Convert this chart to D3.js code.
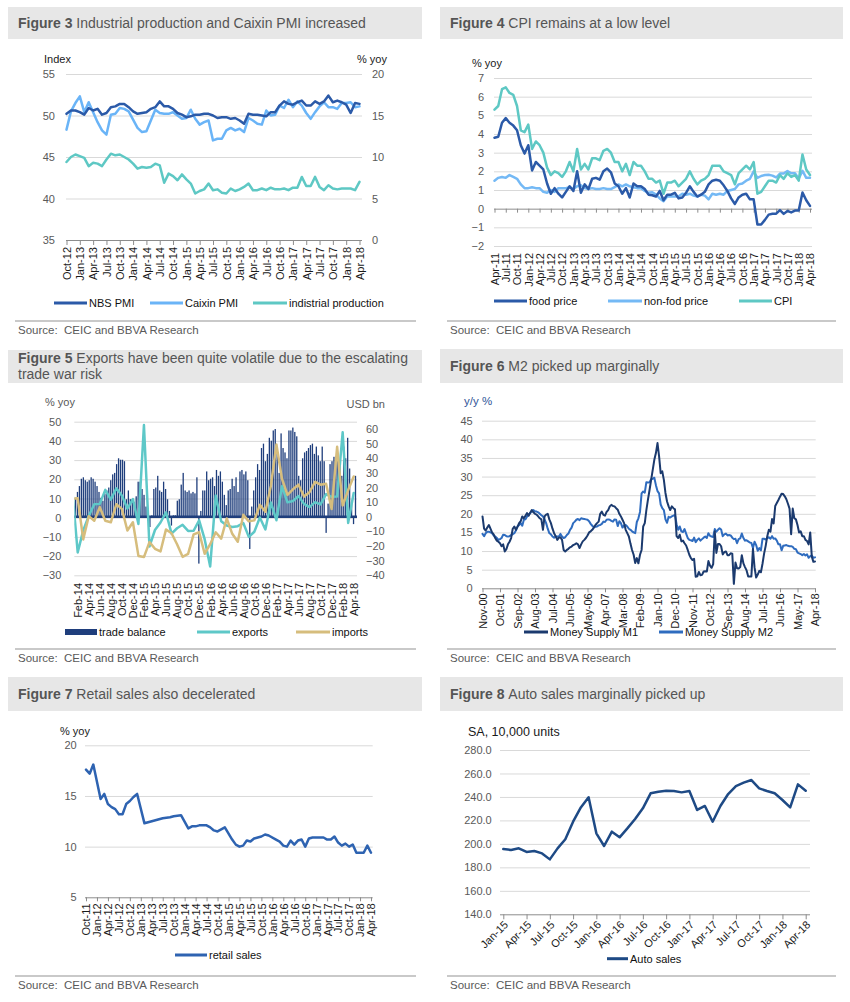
<!DOCTYPE html>
<html>
<head>
<meta charset="utf-8">
<script src="https://cdn.jsdelivr.net/npm/d3@7"></script>
<style>
body { margin: 0; background: #fff; }
text { font-family: Arial, "Liberation Sans", sans-serif; }
</style>
</head>
<body>
<div id="chart"></div>
<script>
const fmtMonth = d3.timeFormat("%b-%y");
function months(start, end) {
	let s = new Date(start + "-01T00:00:00");
	let e = new Date(end + "-01T00:00:00");
	return d3.timeMonth.range(s, d3.timeMonth.offset(e, 1)).map(fmtMonth);
}

// ---- Figure 3 data ----
const f3Months = months("2012-10", "2018-04");
const nbsPmi = [50.2, 50.6, 50.6,
	50.4, 50.1, 50.9, 50.6, 50.8, 50.1, 50.3, 51.0, 51.1, 51.4, 51.4, 51.0,
	50.5, 50.2, 50.3, 50.4, 50.8, 51.0, 51.7, 51.1, 51.1, 50.8, 50.3, 50.1,
	49.8, 49.9, 50.1, 50.1, 50.2, 50.2, 50.0, 49.7, 49.8, 49.8, 49.6, 49.7,
	49.4, 49.0, 50.2, 50.1, 50.1, 50.0, 49.9, 50.4, 50.4, 51.2, 51.7, 51.4,
	51.3, 51.6, 51.8, 51.2, 51.2, 51.7, 51.4, 51.7, 52.4, 51.6, 51.8, 51.6,
	51.3, 50.3, 51.5, 51.4];
const caixinPmi = [48.3, 50.5, 51.5,
	52.3, 50.4, 51.6, 50.4, 49.2, 48.2, 47.7, 50.1, 50.2, 50.9, 50.8, 50.5,
	49.5, 48.5, 48.0, 48.1, 49.4, 50.7, 50.3, 50.2, 50.2, 50.4, 50.0, 49.6,
	49.7, 50.7, 49.6, 48.9, 49.2, 49.4, 47.0, 47.2, 47.2, 48.2, 48.5, 48.2,
	48.4, 48.0, 49.7, 49.4, 49.0, 48.9, 50.6, 50.0, 50.1, 51.2, 50.9, 51.9,
	51.0, 51.7, 51.2, 50.3, 49.6, 50.4, 51.1, 51.6, 51.0, 51.0, 50.8, 51.5,
	51.5, 51.6, 51.0, 51.1];
const indProd = [9.4, 10.0, 10.3,
	10.1, 9.9, 8.9, 9.3, 9.2, 8.9, 9.7, 10.4, 10.2, 10.3, 10.0, 9.7,
	9.2, 8.6, 8.8, 8.7, 8.8, 9.2, 9.0, 6.9, 8.0, 7.7, 7.2, 7.9,
	7.3, 6.8, 5.6, 5.9, 6.1, 6.8, 6.0, 6.1, 5.7, 5.6, 6.2, 5.9,
	6.1, 6.4, 6.8, 6.0, 6.0, 6.2, 6.0, 6.3, 6.1, 6.1, 6.2, 6.0,
	6.3, 6.3, 7.6, 6.5, 6.5, 7.6, 6.4, 6.0, 6.6, 6.2, 6.1, 6.2,
	6.2, 6.2, 6.0, 7.0];

// ---- Figure 4 data ----
const f4Months = months("2011-04", "2018-04");
const foodPrice = [3.8, 3.85, 4.6, 4.85, 4.6, 4.45, 4.2, 3.4, 2.95,
	3.4, 2.05, 2.5, 2.3, 2.1, 1.35, 0.8, 1.1, 0.8, 0.6, 0.9, 1.2,
	0.95, 2.0, 0.85, 1.3, 1.05, 1.6, 1.65, 1.55, 2.0, 2.15, 1.95, 1.35,
	1.2, 0.8, 1.1, 0.6, 1.35, 1.2, 1.2, 1.05, 0.75, 0.72, 0.65, 0.95,
	0.45, 0.75, 0.75, 0.85, 0.55, 0.6, 0.85, 1.2, 0.9, 0.65, 0.75, 0.9,
	1.3, 1.5, 1.55, 1.5, 1.25, 0.95, 0.55, 0.25, 0.6, 0.75, 0.8, 0.5,
	0.5, -0.85, -0.85, -0.6, -0.32, -0.27, -0.27, -0.08, -0.28, -0.12, -0.2, -0.1,
	-0.1, 0.87, 0.45, 0.15];
const nonFoodPrice = [1.5, 1.65, 1.7, 1.65, 1.8, 1.7, 1.6, 1.3, 1.1,
	1.1, 1.15, 1.1, 1.1, 0.9, 0.85, 1.0, 0.9, 1.1, 1.1, 1.1, 1.15,
	1.05, 1.2, 1.25, 1.1, 1.05, 1.1, 1.05, 1.05, 1.1, 1.05, 1.05, 1.15,
	1.3, 1.2, 1.3, 1.2, 1.15, 1.1, 1.1, 0.95, 0.85, 0.88, 0.75, 0.55,
	0.4, 0.65, 0.65, 0.65, 0.65, 0.8, 0.75, 0.8, 0.7, 0.65, 0.75, 0.7,
	0.5, 0.8, 0.75, 0.8, 0.75, 0.95, 1.0, 1.05, 1.3, 1.35, 1.5, 1.6,
	2.0, 1.65, 1.75, 1.8, 1.82, 1.77, 1.67, 1.88, 1.88, 2.02, 1.9, 1.9,
	1.6, 2.03, 1.65, 1.65];
const cpi = [5.3, 5.5, 6.4, 6.5, 6.2, 6.1, 5.5, 4.2, 4.1,
	4.5, 3.2, 3.6, 3.4, 3.0, 2.2, 1.8, 2.0, 1.9, 1.7, 2.0, 2.5,
	2.0, 3.2, 2.1, 2.4, 2.1, 2.7, 2.7, 2.6, 3.1, 3.2, 3.0, 2.5,
	2.5, 2.0, 2.4, 1.8, 2.5, 2.3, 2.3, 2.0, 1.6, 1.6, 1.4, 1.5,
	0.8, 1.4, 1.4, 1.5, 1.2, 1.4, 1.6, 2.0, 1.6, 1.3, 1.5, 1.6,
	1.8, 2.3, 2.3, 2.3, 2.0, 1.9, 1.8, 1.3, 1.9, 2.1, 2.3, 2.1,
	2.5, 0.8, 0.9, 1.2, 1.5, 1.5, 1.4, 1.8, 1.6, 1.9, 1.7, 1.8,
	1.5, 2.9, 2.1, 1.8];

// ---- Figure 5 data ----
const f5Months = months("2014-01", "2018-04");
const exportsYoy = [15, -18.1, -6.6, 0.9, 7.0, 7.2, 14.5, 9.4, 15.3, 11.6, 4.7, 9.7,
	-3.3, 48.3, -15.0, -6.4, -2.5, 2.8, -8.3, -5.5, -3.7, -6.9, -6.8, -1.4,
	-11.2, -25.4, 11.5, -1.8, -4.1, -4.8, -4.4, -2.8, -10.0, -7.3, 0.1, -6.1,
	7.9, -1.3, 16.4, 8.0, 8.7, 11.3, 7.2, 5.5, 8.1, 6.9, 12.3, 10.9,
	11.1, 44.5, -2.7, 12.9];
const importsYoy = [10.0, 10.1, -11.3, 0.8, -1.6, 5.5, -1.6, -2.4, 7.0, 4.6, -6.7, -2.4,
	-19.9, -20.5, -12.7, -16.2, -17.6, -6.1, -8.1, -13.8, -20.4, -18.8, -8.7, -7.6,
	-18.8, -13.8, -7.6, -10.9, -0.4, -8.4, -12.5, 1.5, -1.9, -1.4, 6.7, 3.1,
	16.7, 38.1, 20.3, 11.9, 14.8, 17.2, 11.0, 13.3, 18.7, 17.2, 17.7, 4.5,
	36.9, 6.3, 14.4, 21.5];
const tradeBalance = [13, 17, 21, 26, 27, 25, 24, 25, 27, 26, 24, 21, 17, 13, 11, 16, 18, 20, 25, 29,
	30, 36, 40, 39, 39, 38, 12, 18, 12, 12, 10, 14, 24, 24, 19, 15, 7, 3, -7, 1,
	19, 20, 28, 18, 17, 24, 19, 12, 4, -6, 1, 1, 11, 12, 22, 30, 18, 17, 18, 16,
	17, 16, 27, -32, 4, 18, 18, 31, 25, 26, 27, 21, 32, 28, 31, 24, 15, 8, 18, 19,
	26, 21, 27, 17, 31, 32, 29, 31, 25, -22, 7, 18, 27, 36, 32, 47, 50, 38, 43, 54,
	52, 59, 60, 43, 30, 57, 47, 44, 40, 59, 59, 61, 58, 55, 28, 25, 40, 44, 45, 47,
	49, 50, 43, 48, 42, 38, 48, 38, -11, 9, 36, 38, 41, 41, 43, 36, 28, 48, 40, 54,
	33, 10, -5, 28];

// ---- Figure 6 data ----
const f6Months = months("2000-11", "2018-04");
const m1 = [19.3, 16.0,
	15.5, 16.3, 17.0, 16.0, 15.0, 14.5, 13.5, 12.8, 12.5, 12.1, 11.3, 11.8,
	9.9, 10.5, 11.8, 12.5, 13.5, 16.0, 16.6, 15.7, 16.5, 17.5, 18.0, 19.3,
	18.8, 19.5, 20.2, 19.5, 20.3, 21.0, 20.4, 20.0, 19.8, 19.3, 18.8, 18.5,
	15.7, 19.3, 19.8, 20.0, 18.5, 17.5, 16.0, 14.8, 14.0, 13.0, 13.6, 13.7,
	13.0, 10.3, 9.9, 10.3, 10.6, 11.0, 11.2, 11.6, 11.8, 12.1, 11.8, 10.8,
	11.8, 12.6, 13.0, 13.5, 14.2, 15.0, 15.3, 15.7, 16.3, 17.0, 17.5, 17.9,
	20.0, 20.6, 19.7, 19.5, 20.5, 21.0, 22.0, 22.4, 22.1, 22.0, 21.5, 21.1,
	20.0, 19.3, 18.4, 17.5, 15.7, 14.8, 13.9, 12.0, 10.3, 9.0, 6.8, 8.1,
	6.7, 9.0, 10.3, 16.6, 17.5, 21.0, 23.8, 26.4, 29.1, 31.8, 34.5, 36.3,
	39.0, 35.4, 30.9, 31.4, 29.1, 25.6, 23.3, 22.0, 21.0, 22.0, 21.5, 21.2,
	14.0, 13.5, 14.4, 12.6, 12.8, 12.1, 11.5, 10.3, 9.0, 8.1, 7.6, 7.9,
	3.1, 3.2, 4.4, 3.5, 3.6, 4.5, 4.6, 4.5, 7.3, 6.1, 5.5, 6.5,
	15.3, 9.5, 11.9, 11.9, 11.3, 9.1, 9.7, 9.9, 8.9, 8.9, 9.4, 9.3,
	1.2, 6.9, 5.4, 5.3, 5.7, 8.9, 6.7, 5.7, 4.8, 3.2, 3.2, 3.2,
	10.6, 5.6, 2.9, 3.7, 4.7, 4.3, 6.6, 9.3, 11.4, 14.0, 15.7, 15.2,
	18.6, 17.4, 22.1, 22.9, 23.7, 24.6, 25.4, 25.3, 24.7, 23.9, 22.7, 21.4,
	14.5, 21.4, 18.8, 18.5, 17.0, 15.0, 15.3, 14.0, 14.0, 13.0, 12.7, 11.8,
	15.0, 8.5, 7.1, 7.2];
const m2 = [14.6, 14.0,
	14.8, 15.2, 15.2, 15.0, 14.8, 14.2, 13.9, 13.5, 13.0, 13.2, 13.5, 14.4,
	14.3, 14.0, 13.9, 14.0, 14.3, 14.5, 14.8, 15.5, 16.6, 17.0, 17.5, 16.8,
	18.4, 18.5, 19.3, 19.8, 20.2, 20.8, 21.0, 20.7, 20.6, 20.4, 20.0, 19.6,
	19.3, 18.5, 17.5, 16.0, 14.8, 14.5, 13.9, 13.6, 13.9, 13.9, 13.9, 14.6,
	13.9, 13.5, 13.7, 14.3, 14.7, 15.7, 16.3, 17.5, 17.9, 18.4, 18.6, 18.3,
	18.8, 18.7, 18.6, 18.5, 18.4, 18.0, 17.3, 16.8, 16.4, 16.5, 16.6, 16.9,
	17.0, 17.3, 17.9, 17.8, 18.4, 18.5, 18.4, 18.1, 17.9, 18.5, 18.4, 16.7,
	18.0, 17.5, 16.3, 16.9, 17.0, 16.6, 16.0, 15.7, 15.3, 15.0, 14.8, 17.8,
	18.8, 20.5, 25.5, 26.0, 25.7, 28.5, 28.4, 28.5, 29.3, 29.4, 29.7, 27.7,
	26.1, 25.5, 22.5, 21.5, 21.0, 18.5, 17.6, 19.2, 19.0, 19.3, 19.5, 19.7,
	17.2, 15.7, 16.6, 15.3, 15.1, 15.9, 14.7, 13.5, 13.0, 12.9, 12.7, 13.6,
	12.4, 13.0, 13.4, 12.8, 13.2, 13.6, 13.9, 13.5, 14.8, 14.1, 13.9, 13.8,
	15.9, 15.2, 15.7, 16.1, 15.8, 14.0, 14.5, 14.7, 14.2, 14.3, 14.2, 13.6,
	13.2, 13.3, 12.1, 13.2, 13.4, 14.7, 13.5, 12.8, 12.9, 12.6, 12.3, 12.2,
	10.8, 12.5, 11.6, 10.1, 10.8, 10.2, 13.3, 13.3, 13.1, 13.5, 13.7, 13.3,
	14.0, 13.3, 13.4, 12.8, 11.8, 11.8, 10.2, 11.4, 11.5, 11.6, 11.4, 11.3,
	11.3, 11.1, 10.6, 10.5, 9.6, 9.4, 9.2, 8.9, 9.2, 8.8, 9.1, 8.2,
	8.6, 8.8, 8.2, 8.3];

// ---- Figure 7 data ----
const f7Months = months("2011-10", "2018-04");
const retailSales = [17.6, 17.2, 18.1,
	null, 14.7, 15.2, 14.2, 13.9, 13.7, 13.2, 13.2, 14.2, 14.5, 14.9, 15.2,
	null, 12.3, 12.4, 12.5, 12.6, 12.7, 12.8, 12.85, 12.9, 13.0, 13.05, 13.1,
	null, 11.8, 12.0, 12.0, 12.1, 12.1, 12.1, 11.9, 11.6, 11.5, 11.7, 11.9,
	null, 10.7, 10.2, 10.0, 10.1, 10.6, 10.5, 10.8, 10.9, 11.0, 11.2, 11.1,
	null, 10.7, 10.5, 10.1, 10.0, 10.6, 10.2, 10.6, 10.7, 10.0, 10.8, 10.9,
	null, 10.9, 10.9, 10.7, 10.7, 11.0, 10.4, 10.1, 10.3, 10.0, 10.2, 9.4,
	null, 9.4, 10.1, 9.4];

// ---- Figure 8 data ----
const f8Months = months("2015-01", "2018-04");
const autoSales = [195.6, 194.8, 196.2, 193.1, 193.9, 191.9, 186.8, 196.2, 203.9, 218.9,
	231.1, 239.7, 209.0, 198.2, 210.4, 205.6, 213.2, 221.2, 230.3, 243.1,
	244.5, 245.3, 245.1, 243.9, 245.1, 228.9, 232.3, 218.9, 232.3, 242.5,
	249.3, 252.2, 254.4, 247.3, 245.1, 243.1, 237.4, 231.1, 250.7, 245.3];

// ---- common ----
const FONT = "Arial, 'Liberation Sans', sans-serif";
const C_TEXT = "#1a1a1a";
const C_TICK = "#595959";
const C_GRID = "#d9d9d9";
const C_AXIS = "#8c8c8c";

let svg = d3.select("#chart").append("svg")
	.attr("width", 850).attr("height", 1002)
	.style("display", "block");
svg.append("rect").attr("width", 850).attr("height", 1002).attr("fill", "#fff");

function header(box, tx, lines) {
	svg.append("rect").attr("x", box[0]).attr("y", box[1])
		.attr("width", box[2]).attr("height", box[3]).attr("fill", "#e7e7e7");
	lines.forEach(([y, bold, rest]) => {
		let t = svg.append("text").attr("x", tx).attr("y", y)
			.attr("font-size", 14).attr("fill", "#555");
		if (bold) t.append("tspan").attr("font-weight", "bold").text(bold + " ");
		t.append("tspan").text(rest);
	});
}

function source(x1, x2, y) {
	svg.append("line").attr("x1", x1).attr("x2", x2).attr("y1", y).attr("y2", y)
		.attr("stroke", "#c9c9c9").attr("stroke-width", 2);
	svg.append("text").attr("x", x1 + 3).attr("y", y + 12.5)
		.attr("font-size", 11.5).attr("fill", "#595959")
		.style("white-space", "pre")
		.text("Source:  CEIC and BBVA Research");
}

function label(x, y, txt, opts = {}) {
	svg.append("text").attr("x", x).attr("y", y)
		.attr("font-size", opts.size || 11)
		.attr("fill", opts.color || C_TEXT)
		.attr("text-anchor", opts.anchor || "start")
		.text(txt);
}

function yGrid(y, vals, x1, x2, pad, fmt, axisVal) {
	let g = svg.append("g").attr("transform", `translate(${x1},0)`)
		.call(d3.axisLeft(y).tickValues(vals).tickSize(-(x2 - x1)).tickPadding(pad).tickFormat(fmt || d3.format("d")))
		.attr("font-family", FONT).attr("font-size", 11);
	g.select(".domain").remove();
	g.selectAll(".tick line").attr("stroke", (d) => (d === axisVal ? C_AXIS : C_GRID));
	g.selectAll(".tick text").attr("fill", C_TICK);
	return g;
}

function yRight(y, vals, x, pad) {
	let g = svg.append("g").attr("transform", `translate(${x},0)`)
		.call(d3.axisRight(y).tickValues(vals).tickSize(0).tickPadding(pad).tickFormat(d3.format("d")))
		.attr("font-family", FONT).attr("font-size", 11);
	g.select(".domain").remove();
	g.selectAll(".tick text").attr("fill", C_TICK);
}

function xTicks(x, idx, y, len) {
	let g = svg.append("g").attr("transform", `translate(0,${y})`)
		.call(d3.axisBottom(x).tickValues(idx).tickSize(len).tickFormat(""));
	g.select(".domain").remove();
	g.selectAll(".tick line").attr("stroke", C_AXIS);
}

function xLabels(x, idx, labels, y, gap) {
	let g = svg.append("g").attr("transform", `translate(0,${y})`)
		.call(d3.axisBottom(x).tickValues(idx).tickSize(0).tickFormat((i) => labels[i]))
		.attr("font-family", FONT).attr("font-size", 11);
	g.select(".domain").remove();
	g.selectAll(".tick text").attr("fill", C_TEXT)
		.attr("transform", "rotate(-90)").attr("text-anchor", "end")
		.attr("x", -gap).attr("y", 0).attr("dy", "0.35em");
	return g;
}

function series(data, x, y, color, width, clip) {
	let line = d3.line()
		.defined((d) => d[1] != null)
		.x((d) => x(d[0])).y((d) => y(d[1]));
	let pts = data.map((v, i) => [i, v]).filter((d) => d[1] != null);
	let p = svg.append("path").datum(pts)
		.attr("d", line).attr("fill", "none")
		.attr("stroke", color).attr("stroke-width", width)
		.attr("stroke-linejoin", "round").attr("stroke-linecap", "round");
	if (clip) p.attr("clip-path", `url(#${clip})`);
}

function legend(y, items) {
	items.forEach(([x1, x2, color, txt, isRect]) => {
		if (isRect) {
			svg.append("rect").attr("x", x1).attr("y", y - 3).attr("width", x2 - x1).attr("height", 6).attr("fill", color);
		} else {
			svg.append("line").attr("x1", x1).attr("x2", x2).attr("y1", y).attr("y2", y)
				.attr("stroke", color).attr("stroke-width", 3);
		}
		label(x2 + 2, y + 4, txt, { color: "#111" });
	});
}

// ================= Figure 3 =================
{
	header([8, 7, 414, 32], 18, [[28, "Figure 3", "Industrial production and Caixin PMI increased"]]);
	let x = d3.scaleLinear().domain([0, f3Months.length - 1]).range([66.5, 359.5]);
	let yL = d3.scaleLinear().domain([35, 55]).range([240, 74]);
	let yR = d3.scaleLinear().domain([0, 20]).range([240, 74]);
	label(44, 63, "Index");
	label(387, 63, "% yoy", { anchor: "end" });
	yGrid(yL, [35, 40, 45, 50, 55], 66, 362, 11, null, 35);
	yRight(yR, [0, 5, 10, 15, 20], 362, 10);
	let idx = d3.range(0, f3Months.length, 3);
	xTicks(x, idx, 240, 5);
	xLabels(x, idx, f3Months, 240, 7);
	series(indProd, x, yR, "#5ec8c4", 2.5);
	series(caixinPmi, x, yL, "#6ab4f7", 2.5);
	series(nbsPmi, x, yL, "#2b5aa8", 2.5);
	legend(303, [[54, 87, "#2b5aa8", "NBS PMI"], [150, 183, "#6ab4f7", "Caixin PMI"], [253, 287, "#5ec8c4", "indistrial production"]]);
	source(15, 416, 321);
}

// ================= Figure 4 =================
{
	header([440, 7, 403, 32], 450, [[28, "Figure 4", "CPI remains at a low level"]]);
	let x = d3.scaleLinear().domain([0, f4Months.length - 1]).range([494.5, 810]);
	let y = d3.scaleLinear().domain([-2, 7]).range([246, 78]);
	label(472, 67, "% yoy");
	yGrid(y, d3.range(-2, 8), 494, 812, 10, null, 0);
	let idx = d3.range(0, f4Months.length, 3);
	xTicks(x, idx, y(0), 4);
	xLabels(x, idx, f4Months, y(-2), 7);
	series(nonFoodPrice, x, y, "#74b9f5", 2.5);
	series(cpi, x, y, "#5ec8c4", 2.5);
	series(foodPrice, x, y, "#2b5aa8", 2.5);
	legend(301, [[494, 527, "#2b5aa8", "food price"], [608, 642, "#74b9f5", "non-fod price"], [739, 772, "#5ec8c4", "CPI"]]);
	source(447, 836, 321);
}

// ================= Figure 5 =================
{
	header([8, 350, 414, 33], 18, [
		[363, "Figure 5", "Exports have been quite volatile due to the escalating"],
		[379, null, "trade war risk"],
	]);
	let px1 = 74.3, px2 = 357;
	let x = d3.scaleLinear().domain([1, f5Months.length - 1]).range([77.7, 353.7]);
	let xb = d3.scaleLinear().domain([0, tradeBalance.length - 1]).range([75.5, 355.5]);
	let yL = d3.scaleLinear().domain([-30, 50]).range([575.3, 421.7]);
	let yR = d3.scaleLinear().domain([-40, 65]).range([575.3, 421.7]);
	svg.append("clipPath").attr("id", "clip5").append("rect")
		.attr("x", px1).attr("y", 400).attr("width", px2 - px1).attr("height", 190);
	label(45, 405.5, "% yoy", { color: C_TICK });
	label(385, 408, "USD bn", { color: C_TICK, anchor: "end" });
	yGrid(yL, d3.range(-30, 51, 10), px1, px2, 13, null, null);
	yRight(yR, d3.range(-40, 61, 10), px2, 9);
	svg.append("g").selectAll("rect").data(tradeBalance).join("rect")
		.attr("x", (d, i) => xb(i) - 0.65)
		.attr("width", 1.3)
		.attr("y", (d) => Math.min(yR(d), yR(0)))
		.attr("height", (d) => Math.abs(yR(d) - yR(0)))
		.attr("fill", "#1f3e7c");
	svg.append("line").attr("x1", px1).attr("x2", px2).attr("y1", yR(0)).attr("y2", yR(0))
		.attr("stroke", "#1f3e7c").attr("stroke-width", 2.5);
	let idx = d3.range(1, f5Months.length, 2);
	xLabels(x, idx, f5Months, 575.3, 7.7);
	series(exportsYoy, x, yL, "#5ec8c8", 2.5, "clip5");
	series(importsYoy, x, yL, "#d6bd7d", 2.5, "clip5");
	legend(632, [[65, 97, "#1f3e7c", "trade balance", true], [197, 230, "#5ec8c8", "exports"], [296, 330, "#d6bd7d", "imports"]]);
	source(15, 416, 649);
}

// ================= Figure 6 =================
{
	header([440, 349, 403, 34], 450, [[371, "Figure 6", "M2 picked up marginally"]]);
	let x = d3.scaleLinear().domain([0, f6Months.length - 1]).range([482.5, 815]);
	let y = d3.scaleLinear().domain([0, 45]).range([588.3, 420.7]);
	label(464, 405, "y/y %", { color: "#2f5597", size: 11.5 });
	yGrid(y, d3.range(0, 46, 5), 482, 815.7, 9.3, null, 0);
	let idx = d3.range(0, f6Months.length, 11);
	xTicks(x, idx, y(0), 4);
	xLabels(x, idx, f6Months, y(0), 5);
	series(m2, x, y, "#2f6cbf", 2);
	series(m1, x, y, "#1b3a6e", 2);
	legend(632, [[524, 548, "#1b3a6e", "Money Supply M1"], [659, 683, "#2f6cbf", "Money Supply M2"]]);
	source(447, 836, 649);
}

// ================= Figure 7 =================
{
	header([8, 677, 414, 34], 18, [[699, "Figure 7", "Retail sales also decelerated"]]);
	let x = d3.scaleLinear().domain([0, f7Months.length - 1]).range([86, 371]);
	let y = d3.scaleLinear().domain([5, 20]).range([897.3, 745.3]);
	label(60, 735, "% yoy");
	yGrid(y, [5, 10, 15, 20], 85, 372.7, 8.3, null, 5);
	let idx = d3.range(0, f7Months.length, 3);
	xTicks(x, idx, y(5), 4);
	xLabels(x, idx, f7Months, y(5), 6);
	series(retailSales, x, y, "#2e63b1", 2.5);
	legend(955, [[175, 207, "#2e63b1", "retail sales"]]);
	source(15, 416, 976);
}

// ================= Figure 8 =================
{
	header([440, 677, 403, 34], 450, [[699, "Figure 8", "Auto sales marginally picked up"]]);
	let x = d3.scaleLinear().domain([0, f8Months.length - 1]).range([503.3, 805.7]);
	let y = d3.scaleLinear().domain([140, 280]).range([914.3, 750]);
	label(468, 736, "SA, 10,000 units", { size: 12.5 });
	yGrid(y, d3.range(140, 281, 20), 500, 810, 8.3, d3.format(".1f"), 140);
	let idx = d3.range(0, f8Months.length, 3);
	xTicks(x, idx, y(140), 5);
	let g = svg.append("g").attr("transform", `translate(0,${y(140)})`)
		.call(d3.axisBottom(x).tickValues(idx).tickSize(0).tickFormat((i) => f8Months[i]))
		.attr("font-family", FONT).attr("font-size", 11);
	g.select(".domain").remove();
	g.selectAll(".tick text").attr("fill", C_TEXT)
		.attr("text-anchor", "end").attr("x", 0).attr("y", 0).attr("dy", 0)
		.attr("transform", "translate(5,11) rotate(-45)");
	series(autoSales, x, y, "#1e4a85", 2.5);
	legend(958.7, [[607, 628, "#1e4a85", "Auto sales"]]);
	source(447, 836, 976);
}
</script>
</body>
</html>
